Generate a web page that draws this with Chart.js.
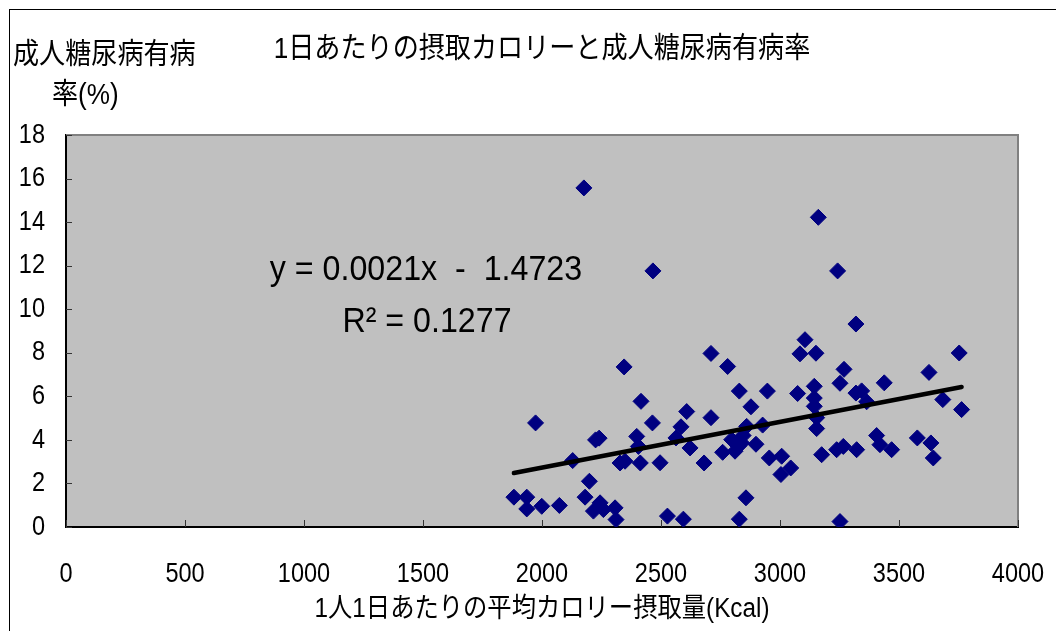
<!DOCTYPE html>
<html lang="ja">
<head>
<meta charset="utf-8">
<title>1日あたりの摂取カロリーと成人糖尿病有病率</title>
<script src="https://cdn.jsdelivr.net/npm/chart.js@4.4.1/dist/chart.umd.min.js"></script>
<style>
  html, body { margin: 0; padding: 0; background: #ffffff; }
  #wrap { position: relative; width: 1056px; height: 631px; overflow: hidden; }
  #frame { position: absolute; left: 9px; top: 9px; width: 1100px; height: 700px; border: 1.5px solid #000; box-sizing: border-box; pointer-events: none; }
  canvas { position: absolute; left: 0; top: 0; }
</style>
</head>
<body>
<div id="wrap">
  <canvas id="chart" width="1056" height="631"></canvas>
  <div id="frame"></div>
</div>
<script>
// Average daily calorie intake per person (kcal), one entry per country
const calories = [
  1882, 1936, 1936, 1999, 2073, 1973, 2129, 2181, 2199, 2216,
  2244, 2258, 2307, 2311, 2225, 2240, 2176, 2345, 2328, 2349,
  2413, 2398, 2405, 2416, 2464, 2466, 2496, 2527, 2563, 2584,
  2594, 2608, 2622, 2681, 2710, 2710, 2759, 2780, 2797, 2811,
  2825, 2839, 2845, 2860, 2857, 2829, 2829, 2878, 2899, 2927,
  2947, 2955, 3004, 3007, 3045, 3074, 3084, 3105, 3144, 3144,
  3144, 3151, 3154, 3154, 3161, 3175, 3238, 3242, 3252, 3252,
  3266, 3269, 3319, 3319, 3322, 3343, 3364, 3406, 3420, 3438,
  3469, 3577, 3626, 3634, 3644, 3684, 3753, 3763
];

// Adult diabetes prevalence (%), same order as calories
const prevalence = [
  1.37, 1.37, 0.83, 0.95, 0.99, 4.78, 3.05, 1.37, 2.10, 0.73,
  1.11, 0.80, 0.88, 0.34, 4.00, 4.08, 15.57, 7.35, 2.94, 3.02,
  2.94, 4.16, 3.70, 5.77, 4.78, 11.76, 2.95, 0.50, 4.09, 4.60,
  0.36, 5.30, 3.63, 2.94, 7.97, 5.02, 3.43, 7.37, 4.01, 3.48,
  3.71, 3.86, 4.20, 4.62, 1.34, 0.36, 6.24, 5.52, 3.80, 4.68,
  6.24, 3.17, 2.41, 3.25, 2.71, 6.13, 7.95, 8.60, 6.46, 5.92,
  5.54, 7.98, 5.02, 4.52, 14.22, 3.32, 3.55, 11.76, 6.60, 0.25,
  3.70, 7.24, 9.32, 6.15, 3.55, 6.25, 5.75, 4.20, 3.78, 6.62,
  3.55, 4.09, 7.10, 3.86, 3.17, 5.85, 7.99, 5.39
];

// Tick values for both axes
const xTickValues = [0, 500, 1000, 1500, 2000, 2500, 3000, 3500, 4000];
const yTickValues = [0, 2, 4, 6, 8, 10, 12, 14, 16, 18];

// Linear trendline as printed on the chart
const slope = 0.0021;
const intercept = -1.4723;
const rSquared = 0.1277;

const titleText = '1日あたりの摂取カロリーと成人糖尿病有病率';
const xTitleText = '1人1日あたりの平均カロリー摂取量(Kcal)';
const yCaptionLines = ['成人糖尿病有病', '率(%)'];

const FONT = "'Liberation Sans', Arial, 'Noto Sans CJK JP', sans-serif";

// Narrow lettering: every label is drawn slightly condensed horizontally
const CJK_RE = /[\u3000-\u9fff\uff00-\uffef]/;
const SQUISH_CJK = 0.9;
const SQUISH_LATIN = 0.84;
let squishOverride = null;

const canvas = document.getElementById('chart');
const ctx2d = canvas.getContext('2d');
const nativeFillText = ctx2d.fillText;
ctx2d.fillText = function (text, x, y, maxWidth) {
  const str = String(text);
  const k = squishOverride || (CJK_RE.test(str) ? SQUISH_CJK : SQUISH_LATIN);
  this.save();
  this.translate(x, y);
  this.scale(k, 1);
  if (maxWidth === undefined) {
    nativeFillText.call(this, str, 0, 0);
  } else {
    nativeFillText.call(this, str, 0, 0, maxWidth / k);
  }
  this.restore();
};

const points = calories.map((x, i) => ({ x, y: prevalence[i] }));
const xMin = Math.min(...calories);
const xMax = Math.max(...calories);
const trend = [xMin, xMax].map(x => ({ x, y: slope * x + intercept }));

// Grey plotting area with a grey frame on the top and right
const plotBackground = {
  id: 'plotBackground',
  beforeDraw(chart) {
    const { ctx, chartArea: a } = chart;
    ctx.save();
    ctx.fillStyle = '#c0c0c0';
    ctx.fillRect(a.left, a.top, a.right - a.left, a.bottom - a.top);
    ctx.restore();
  },
  afterDatasetsDraw(chart) {
    const { ctx, chartArea: a } = chart;
    ctx.save();
    ctx.strokeStyle = '#808080';
    ctx.lineWidth = 2;
    ctx.beginPath();
    ctx.moveTo(a.left, a.top);
    ctx.lineTo(a.right, a.top);
    ctx.lineTo(a.right, a.bottom);
    ctx.stroke();
    ctx.restore();
  }
};

// Short tick marks pointing into the plot area
const innerTicks = {
  id: 'innerTicks',
  afterDraw(chart) {
    const { ctx, chartArea: a, scales } = chart;
    ctx.save();
    ctx.strokeStyle = '#333333';
    ctx.lineWidth = 1;
    ctx.beginPath();
    yTickValues.forEach(v => {
      const py = Math.round(scales.y.getPixelForValue(v)) + 0.5;
      ctx.moveTo(a.left, py);
      ctx.lineTo(a.left + 6, py);
    });
    xTickValues.forEach(v => {
      const px = Math.round(scales.x.getPixelForValue(v)) + 0.5;
      ctx.moveTo(px, a.bottom);
      ctx.lineTo(px, a.bottom - 7);
    });
    ctx.stroke();
    ctx.restore();
  }
};

// Horizontal y-axis caption and the regression equation
const captions = {
  id: 'captions',
  afterDraw(chart) {
    const { ctx } = chart;
    ctx.save();
    ctx.fillStyle = '#000000';
    ctx.textBaseline = 'middle';
    ctx.textAlign = 'left';
    ctx.font = '29px ' + FONT;
    ctx.fillText(yCaptionLines[0], 13, 56);
    ctx.fillText(yCaptionLines[1], 52, 96);

    squishOverride = 0.92;
    ctx.font = '35px ' + FONT;
    ctx.textAlign = 'center';
    const sign = intercept < 0 ? '-' : '+';
    const eq = 'y = ' + slope.toFixed(4) + 'x  ' + sign + '  ' + Math.abs(intercept).toFixed(4);
    ctx.fillText(eq, 426, 270);
    ctx.fillText('R² = ' + rSquared.toFixed(4), 427, 322);
    squishOverride = null;
    ctx.restore();
  }
};

new Chart(canvas, {
  type: 'scatter',
  data: {
    datasets: [
      {
        type: 'line',
        label: 'trend',
        data: trend,
        borderColor: '#000000',
        borderWidth: 4.5,
        borderCapStyle: 'round',
        pointRadius: 0,
        fill: false
      },
      {
        label: 'prevalence',
        data: points,
        pointStyle: 'rectRot',
        pointRadius: 8,
        pointHoverRadius: 8,
        backgroundColor: '#000080',
        borderColor: '#000080',
        borderWidth: 1
      }
    ]
  },
  options: {
    responsive: false,
    animation: false,
    events: [],
    layout: { padding: { left: 0, right: 38, top: 0, bottom: 0 } },
    plugins: {
      legend: { display: false },
      tooltip: { enabled: false },
      title: {
        display: true,
        fullSize: false,
        text: titleText,
        color: '#000000',
        font: { family: FONT, size: 29, weight: 'normal', lineHeight: 1.2 },
        padding: { top: 32.6, bottom: 67.6 }
      }
    },
    scales: {
      x: {
        type: 'linear',
        min: 0,
        max: 4000,
        afterBuildTicks(scale) { scale.ticks = xTickValues.map(value => ({ value })); },
        afterFit(scale) {
          scale.height = 104;
          scale.paddingLeft = 0;
          scale.paddingRight = 0;
        },
        grid: { display: false, drawTicks: false },
        border: { display: true, color: '#000000', width: 2 },
        ticks: {
          color: '#000000',
          padding: 30,
          maxRotation: 0,
          autoSkip: false,
          callback: value => String(value),
          font: { family: FONT, size: 28 }
        },
        title: {
          display: true,
          text: xTitleText,
          color: '#000000',
          font: { family: FONT, size: 27, lineHeight: 1.2 },
          padding: { top: 0, bottom: 4.8 }
        }
      },
      y: {
        type: 'linear',
        min: 0,
        max: 18,
        afterBuildTicks(scale) { scale.ticks = yTickValues.map(value => ({ value })); },
        afterFit(scale) {
          scale.width = 66;
          scale.paddingTop = 0;
          scale.paddingBottom = 0;
        },
        grid: { display: false, drawTicks: false },
        border: { display: true, color: '#000000', width: 2 },
        ticks: {
          color: '#000000',
          padding: 21,
          autoSkip: false,
          callback: value => String(value),
          font: { family: FONT, size: 28 }
        }
      }
    }
  },
  plugins: [plotBackground, innerTicks, captions]
});
</script>
</body>
</html>
